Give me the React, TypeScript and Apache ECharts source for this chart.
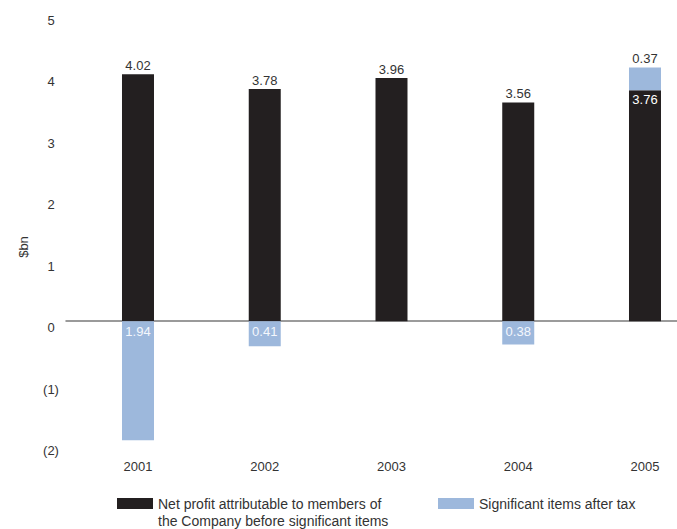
import React, { useEffect, useRef } from "react";
import * as echarts from "echarts";

const years = [2001, 2002, 2003, 2004, 2005];
const netProfit = [4.02, 3.78, 3.96, 3.56, 3.76];
const significantItems: (number | null)[] = [-1.94, -0.41, null, -0.38, 0.37];
const yTicks = [-2, -1, 0, 1, 2, 3, 4, 5];

const NET_NAME = "Net profit attributable to members of\nthe Company before significant items";
const SIG_NAME = "Significant items after tax";

const FONT = "'Liberation Sans', Arial, Helvetica, sans-serif";
const TEXT = "#333333";
const BLACK = "#231f20";
const BLUE = "#9db8dc";

export default function App() {
  const ref = useRef<HTMLDivElement>(null);
  useEffect(() => {
    if (!ref.current) return;
    const chart = echarts.init(ref.current, undefined, { renderer: "svg" });
    const fmt = (v: number) => Math.abs(v).toFixed(2);
    chart.setOption({
      animation: false,
      backgroundColor: "#ffffff",
      textStyle: { fontFamily: FONT },
      grid: { left: 66, right: 0, top: 14, bottom: 85, containLabel: false, outerBoundsMode: "none" },
      legend: [
        {
          data: [NET_NAME],
          left: 117,
          top: 478,
          padding: 0,
          itemWidth: 36,
          itemHeight: 11,
          selectedMode: false,
          icon: "rect",
          formatter: (name: string) => "\n" + name,
          textStyle: { fontFamily: FONT, fontSize: 14, color: TEXT, lineHeight: 17 },
        },
        {
          data: [SIG_NAME],
          left: 438,
          top: 495,
          padding: 0,
          itemWidth: 36,
          itemHeight: 11,
          selectedMode: false,
          icon: "rect",
          textStyle: { fontFamily: FONT, fontSize: 14, color: TEXT, lineHeight: 17 },
        },
      ],
      graphic: [
        {
          type: "text",
          x: 23,
          y: 247,
          rotation: Math.PI / 2,
          style: {
            text: "$bn",
            fontFamily: FONT,
            fontSize: 13,
            fill: TEXT,
            align: "center",
            verticalAlign: "middle",
          },
        },
      ],
      xAxis: {
        type: "value",
        min: 2000.432,
        max: 2005.2525,
        axisLine: { show: true, onZero: true, lineStyle: { color: "#7a7a7a", width: 1.5 } },
        axisTick: { show: false },
        splitLine: { show: false },
        axisLabel: {
          customValues: years,
          formatter: (v: number) => String(Math.round(v)),
          margin: 16,
          fontFamily: FONT,
          fontSize: 13,
          color: TEXT,
        },
      },
      yAxis: {
        type: "value",
        min: -2,
        max: 5,
        interval: 1,
        axisLine: { show: false },
        axisTick: { show: false },
        splitLine: { show: false },
        axisLabel: {
          customValues: yTicks,
          formatter: (v: number) => (v < 0 ? `(${-v})` : String(v)),
          align: "center",
          verticalAlign: "top",
          margin: 15,
          fontFamily: FONT,
          fontSize: 13,
          color: TEXT,
        },
      },
      series: [
        {
          name: NET_NAME,
          type: "bar",
          stack: "total",
          barWidth: 32,
          encode: { x: 1, y: 0 },
          itemStyle: { color: BLACK },
          data: years.map((y, i) => ({
            value: [netProfit[i], y],
            label:
              i === 4
                ? { show: true, position: "insideTop", distance: 3, color: "#ffffff" }
                : { show: true, position: "top", distance: 2, color: TEXT },
          })),
          label: {
            show: true,
            fontFamily: FONT,
            fontSize: 13,
            formatter: (p: any) => fmt(p.value[0]),
          },
        },
        {
          name: SIG_NAME,
          type: "bar",
          stack: "total",
          barWidth: 32,
          encode: { x: 1, y: 0 },
          itemStyle: { color: BLUE },
          data: years.map((y, i) => ({
            value: [significantItems[i], y],
            label:
              significantItems[i] !== null && (significantItems[i] as number) > 0
                ? { show: true, position: "top", distance: 2, color: TEXT }
                : { show: significantItems[i] !== null, position: "insideTop", distance: 4, color: "#f4f7fc" },
          })),
          label: {
            show: true,
            fontFamily: FONT,
            fontSize: 13,
            formatter: (p: any) => (p.value[0] == null ? "" : fmt(p.value[0])),
          },
        },
      ],
    });
    return () => chart.dispose();
  }, []);
  return (
    <div
      ref={ref}
      style={{ position: "fixed", left: 0, top: 0, width: 677, height: 529 }}
    />
  );
}
